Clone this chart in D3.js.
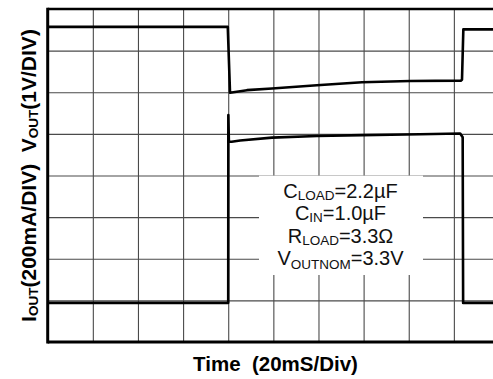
<!DOCTYPE html>
<html>
<head>
<meta charset="utf-8">
<script src="https://cdn.jsdelivr.net/npm/d3@7"></script>
<style>
  body { margin: 0; background: #fff; }
  svg { display: block; font-family: "Liberation Sans", Arial, sans-serif; }
</style>
</head>
<body>
<div id="chart"></div>
<script>
// time in ms (20 ms/div), trace levels in screen divisions (0 = bottom grid line)
const vOutTime = [0, 79.8, 80.8, 88.3, 99.4, 119.3, 139.3, 160.6, 183.1, 183.6, 184.2, 200];
const vOutDiv  = [7.57, 7.57, 5.99, 6.05, 6.09, 6.17, 6.24, 6.27, 6.28, 6.3, 7.51, 7.51];

const iOutTime = [0, 80.0, 80.05, 80.3, 81.5, 85.3, 99.4, 119.3, 139.3, 165.0, 182.8, 183.9, 184.1, 200];
const iOutDiv  = [0.94, 0.94, 5.45, 4.81, 4.81, 4.84, 4.91, 4.95, 4.97, 4.99, 5.01, 4.92, 0.94, 0.94];

const xDivs = d3.range(0, 201, 20);
const yDivs = d3.range(0, 9, 1);

const noteLines = [
    { main: 'C', sub: 'LOAD', rest: '=2.2\u00b5F', dy: 1.5 },
    { main: 'C', sub: 'IN', rest: '=1.0\u00b5F', dy: 2 },
    { main: 'R', sub: 'LOAD', rest: '=3.3\u03a9', dy: 1.5 },
    { main: 'V', sub: 'OUTNOM', rest: '=3.3V', dy: 4 }
];

const width = 493, height = 379;

const svg = d3.select('#chart').append('svg')
    .attr('width', width)
    .attr('height', height);

const x = d3.scaleLinear().domain([0, 200]).range([47.7, 499]);
const y = d3.scaleLinear().domain([0, 8]).range([342, 9]);

// gridlines
svg.append('g')
    .attr('transform', `translate(0,${y(0)})`)
    .call(d3.axisBottom(x).tickValues(xDivs).tickSize(-(y(0) - y(8))).tickFormat(''))
    .call(g => g.select('.domain').remove())
    .selectAll('line').attr('stroke', '#4a4a4a').attr('stroke-width', 1.1);

svg.append('g')
    .attr('transform', `translate(${x(0)},0)`)
    .call(d3.axisLeft(y).tickValues(yDivs).tickSize(-(x(200) - x(0))).tickFormat(''))
    .call(g => g.select('.domain').remove())
    .selectAll('line').attr('stroke', '#4a4a4a').attr('stroke-width', 1.1);

// note box covers the grid
svg.append('rect')
    .attr('x', 259).attr('y', 175.6)
    .attr('width', 164).attr('height', 99.4)
    .attr('fill', '#fff');

// frame
svg.append('line').attr('x1', x(0)).attr('x2', x(200)).attr('y1', y(8)).attr('y2', y(8))
    .attr('stroke', '#000').attr('stroke-width', 2.5);
svg.append('line').attr('x1', x(0)).attr('x2', x(200)).attr('y1', y(0)).attr('y2', y(0))
    .attr('stroke', '#000').attr('stroke-width', 3);
svg.append('line').attr('x1', x(0)).attr('x2', x(0)).attr('y1', y(8) - 1.2).attr('y2', y(0) + 1.5)
    .attr('stroke', '#000').attr('stroke-width', 3);

// traces
const line = d3.line().x(d => x(d[0])).y(d => y(d[1]));

svg.append('path')
    .datum(d3.zip(vOutTime, vOutDiv))
    .attr('d', line)
    .attr('fill', 'none').attr('stroke', '#000')
    .attr('stroke-width', 2.6).attr('stroke-linejoin', 'round');

svg.append('path')
    .datum(d3.zip(iOutTime, iOutDiv))
    .attr('d', line)
    .attr('fill', 'none').attr('stroke', '#000')
    .attr('stroke-width', 2.6).attr('stroke-linejoin', 'round');

// note text
const note = svg.append('g');
const baselines = [198, 220, 243, 265];
noteLines.forEach((n, i) => {
    const t = note.append('text')
        .attr('x', 340.5).attr('y', baselines[i])
        .attr('text-anchor', 'middle')
        .style('font-size', '20px').attr('fill', '#111');
    t.append('tspan').text(n.main);
    t.append('tspan').attr('dy', n.dy).style('font-size', '13.5px').text(n.sub);
    t.append('tspan').attr('dy', -n.dy).text(n.rest);
});

// x label
svg.append('text')
    .attr('x', 275.5).attr('y', 370.7)
    .attr('text-anchor', 'middle')
    .style('font-size', '20.5px').style('font-weight', 'bold')
    .style('white-space', 'pre')
    .text('Time  (20mS/Div)');

// y label
const yl = svg.append('text')
    .attr('transform', 'translate(36,175.5) rotate(-90)')
    .attr('text-anchor', 'middle')
    .style('font-size', '21px').style('font-weight', 'bold')
    .style('white-space', 'pre');
yl.append('tspan').text('I');
yl.append('tspan').attr('dy', 2).style('font-size', '13.5px').text('OUT');
yl.append('tspan').attr('dy', -2).text('(200mA/DIV)  V');
yl.append('tspan').attr('dy', 2).style('font-size', '13.5px').text('OUT');
yl.append('tspan').attr('dy', -2).text('(1V/DIV)');
</script>
</body>
</html>
